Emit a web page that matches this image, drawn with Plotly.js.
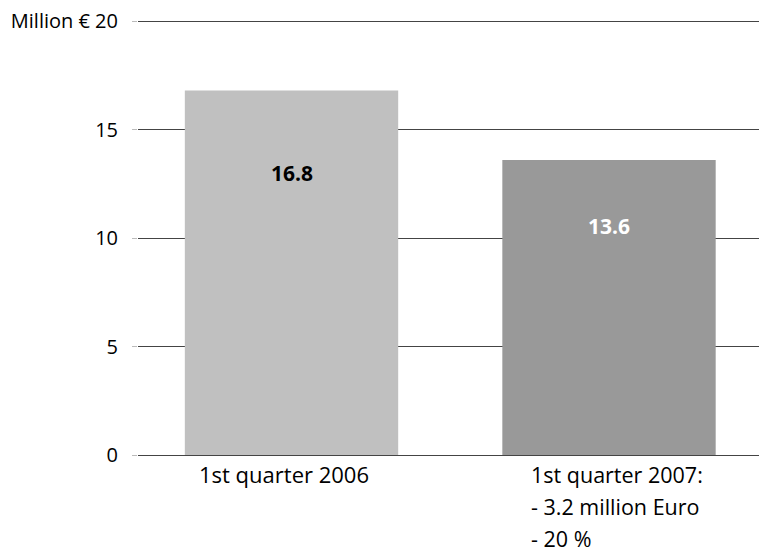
<!DOCTYPE html>
<html>
<head>
<meta charset="utf-8">
<script src="https://cdn.plot.ly/plotly-3.0.1.min.js"></script>
<style>html,body{margin:0;padding:0;background:#fff;}#chart{width:759px;height:553px;}</style>
</head>
<body>
<div id="chart"></div>
<script>
const categories = ["1st quarter 2006", "1st quarter 2007"];
const values = [16.8, 13.6];
const valueLabels = ["16.8", "13.6"];
const barColors = ["#c0c0c0", "#999999"];
const valueFontColors = ["#000000", "#ffffff"];
const labelLines = [["1st quarter 2006"], ["1st quarter 2007:", "- 3.2 million Euro", "- 20 %"]];
const yTickVals = [0, 5, 10, 15, 20];
const yTickText = ["0", "5", "10", "15", "Million € 20"];

const FONT = "Open Sans, Liberation Sans, sans-serif";

const trace = {
  type: "bar",
  x: [0, 1],
  y: values,
  width: 0.672,
  marker: {color: barColors, line: {width: 0}},
  hoverinfo: "none"
};

const annotations = [];
values.forEach((v, i) => {
  annotations.push({
    x: i, y: v * 0.775, xref: "x", yref: "y",
    text: "<b>" + valueLabels[i] + "</b>", showarrow: false,
    font: {family: FONT, size: 21, color: valueFontColors[i]}
  });
});
// category labels
annotations.push({
  x: 0, y: 0, xref: "x", yref: "y", yanchor: "middle", xanchor: "center",
  yshift: -19, xshift: -8, borderpad: 0,
  text: labelLines[0][0], showarrow: false,
  font: {family: FONT, size: 22, color: "#000"}
});
labelLines[1].forEach((t, j) => {
  annotations.push({
    x: 1, y: 0, xref: "x", yref: "y", yanchor: "middle", xanchor: "left",
    yshift: -19 - j * 32.3, xshift: -79, borderpad: 0,
    text: t, showarrow: false, align: "left",
    font: {family: FONT, size: 21.5, color: "#000"}
  });
});

const layout = {
  width: 759, height: 553,
  margin: {l: 138, r: 0, t: 20, b: 98},
  paper_bgcolor: "#fff", plot_bgcolor: "#fff",
  showlegend: false,
  xaxis: {
    range: [-0.4835, 1.4724], showgrid: false, zeroline: false,
    showticklabels: false, ticks: "", fixedrange: true
  },
  yaxis: {
    range: [0, 20.05], tickvals: yTickVals, ticktext: yTickText,
    showgrid: true, gridcolor: "#444444", gridwidth: 1,
    zeroline: true, zerolinecolor: "#444444", zerolinewidth: 1,
    showline: false, ticks: "outside", ticklen: 5, tickcolor: "#bbbbbb",
    ticklabelstandoff: 10,
    tickfont: {family: FONT, size: 20, color: "#000"}
  },
  annotations: annotations,
  font: {family: FONT}
};

Plotly.newPlot("chart", [trace], layout, {displayModeBar: false, staticPlot: true});
</script>
</body>
</html>
